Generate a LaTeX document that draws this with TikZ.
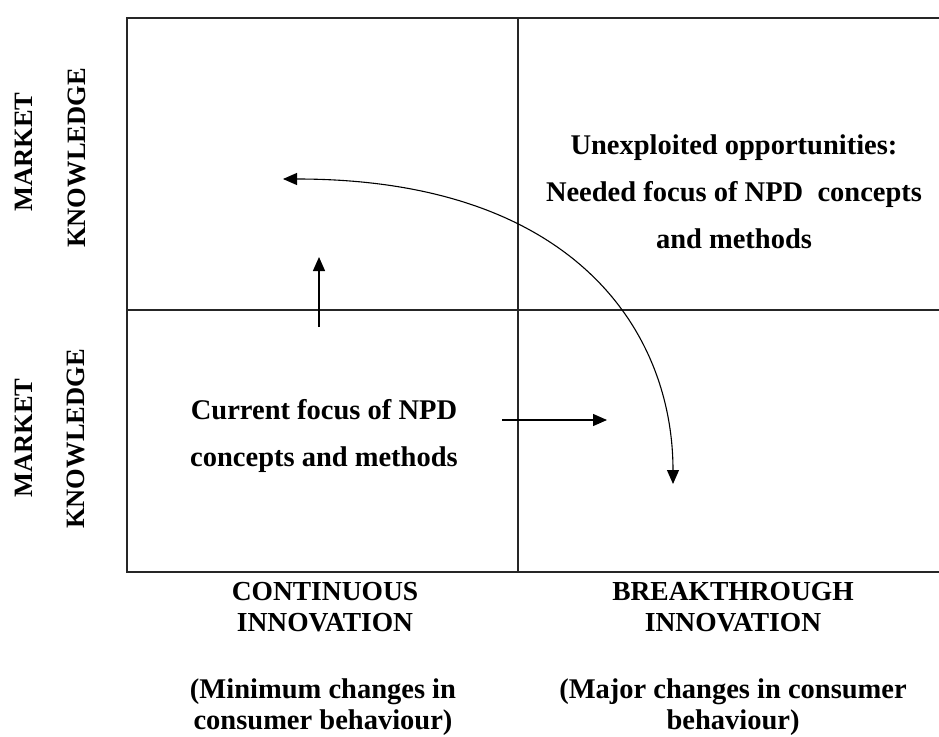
\documentclass[tikz,border=0pt]{standalone}
\usepackage{fontspec}
\setmainfont{Liberation Serif}
\usetikzlibrary{arrows.meta}
\begin{document}
\begin{tikzpicture}[x=1pt,y=-1pt,
  grid/.style={line width=1.5pt, black!85},
  tip/.tip={Triangle[length=14pt,width=12pt]},
  link/.style={line width=1.3pt, -tip},
  % multi-line nodes are anchored at the baseline of their last line
  quad/.style={font=\bfseries\fontsize{28.5}{47}\selectfont, align=center, anchor=base, inner sep=0pt},
  axis/.style={font=\bfseries\fontsize{27.5}{31}\selectfont, align=center, anchor=base, inner sep=0pt},
  note/.style={font=\bfseries\fontsize{28.5}{31}\selectfont, align=center, anchor=base, inner sep=0pt},
  side/.style={font=\bfseries\fontsize{26.5}{30}\selectfont, rotate=90, inner sep=0pt},
]
\useasboundingbox (0,0) rectangle (939,736);

% matrix frame
\coordinate (tl) at (127,18);
\coordinate (tr) at (939,18);
\coordinate (ml) at (127,310);
\coordinate (mr) at (939,310);
\coordinate (bl) at (127,572);
\coordinate (br) at (939,572);
\coordinate (tm) at (518,18);
\coordinate (bm) at (518,572);
\draw[grid] (tr) -- (tl) -- (bl) -- (br);
\draw[grid] (ml) -- (mr);
\draw[grid] (tm) -- (bm);

% vertical axis labels
\node[side] (mk1) at (24,152) {MARKET};
\node[side] (kn1) at (77,158) {KNOWLEDGE};
\node[side] (mk2) at (24,438) {MARKET};
\node[side] (kn2) at (76,439) {KNOWLEDGE};

% quadrant texts
\node[quad] (cur) at (324,466) {Current focus of NPD\\concepts and methods};
\node[quad] (need) at (734,248) {Unexploited opportunities:\\Needed focus of NPD\ \ concepts\\and methods};

% horizontal axis labels
\node[axis] (cont) at (325,631) {CONTINUOUS\\INNOVATION};
\node[axis] (brk) at (733,631) {BREAKTHROUGH\\INNOVATION};
\node[note] (minc) at (323,729) {(Minimum changes in\\consumer behaviour)};
\node[note] (majc) at (733,729) {(Major changes in consumer\\behaviour)};

% arrows
\coordinate (upS) at (319,327);
\coordinate (upE) at (319,257);
\coordinate (rtS) at (502,420);
\coordinate (rtE) at (607,420);
\coordinate (cvL) at (283,179);
\coordinate (cvD) at (673,484);
\draw[link] (upS) -- (upE);
\draw[link] (rtS) -- (rtE);
\draw[line width=1.1pt, tip-tip] (cvL) .. controls (575,179) and (673,332) .. (cvD);
\end{tikzpicture}
\end{document}
